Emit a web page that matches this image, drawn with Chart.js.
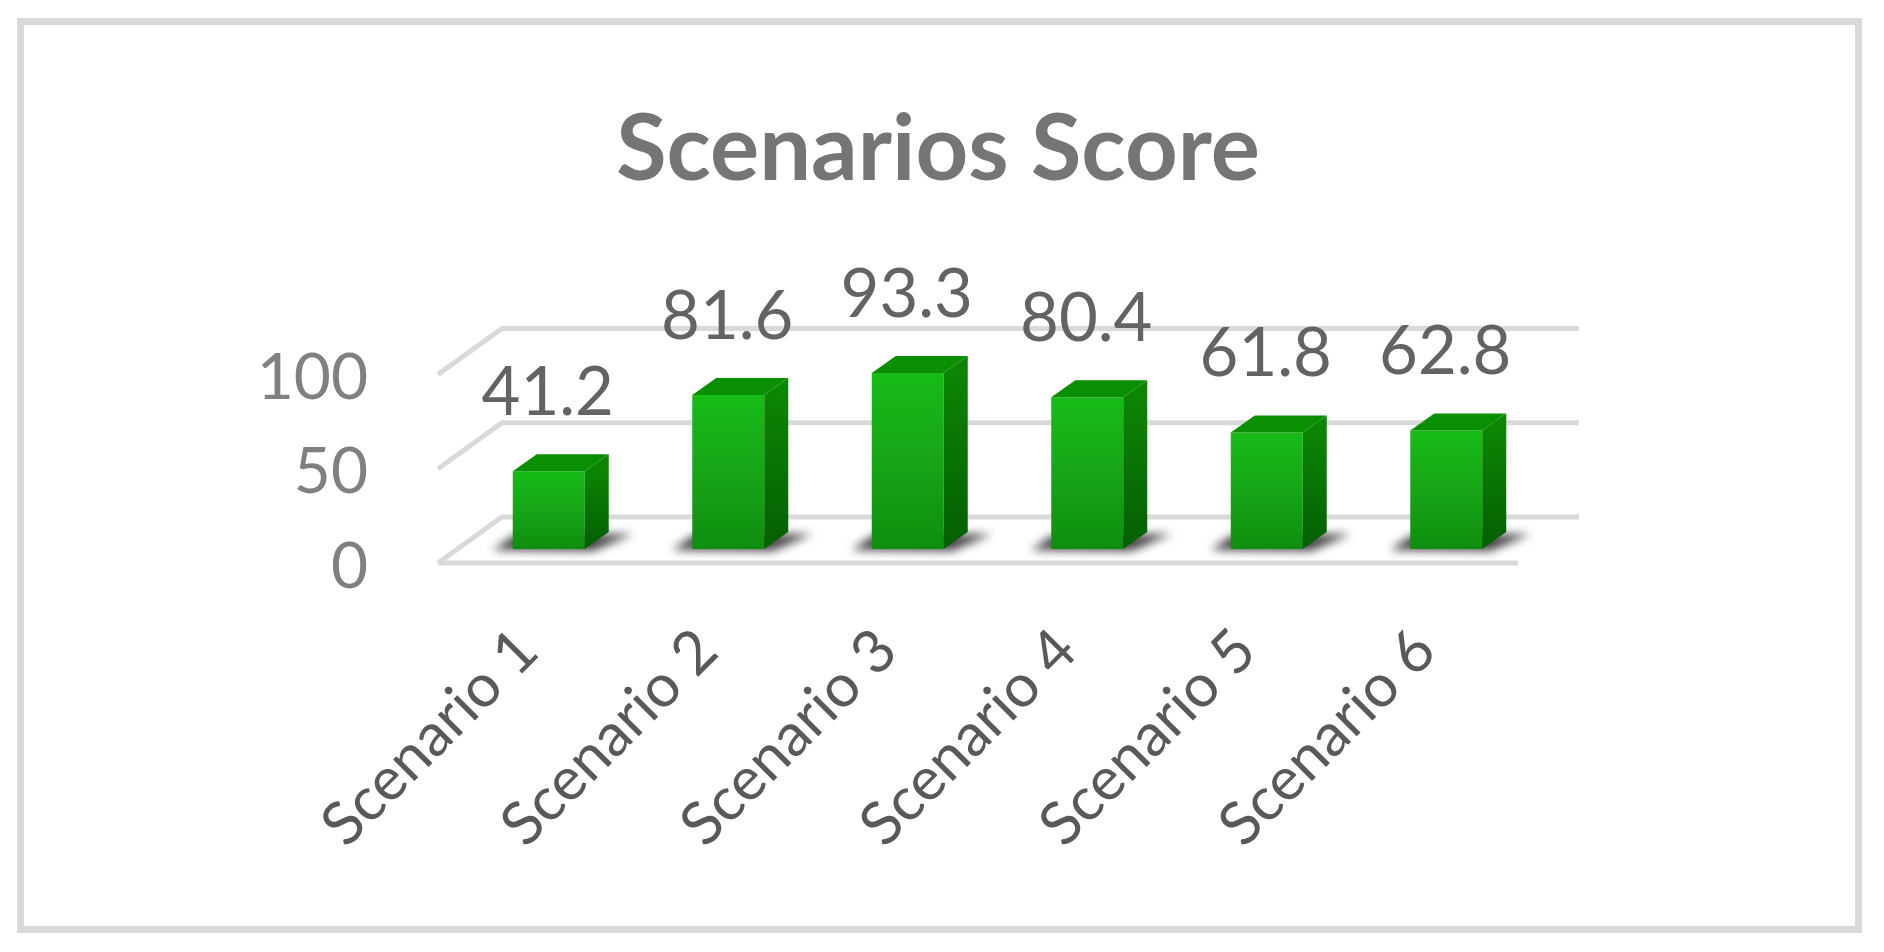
<!DOCTYPE html>
<html>
<head>
<meta charset="utf-8">
<title>Scenarios Score</title>
<script src="https://cdn.jsdelivr.net/npm/chart.js@4"></script>
<style>
  html, body { margin: 0; padding: 0; background: #fff; }
  #wrap { position: relative; width: 1884px; height: 952px; overflow: hidden; }
  #frame { position: absolute; left: 17px; top: 18px; width: 1831px; height: 901px; border: 7px solid #d9d9d9; }
  canvas { position: absolute; left: 0; top: 0; }
</style>
</head>
<body>
<div id="wrap">
  <div id="frame"></div>
  <canvas id="scoreChart" width="1884" height="952"></canvas>
</div>
<script>
const categories = ['Scenario 1', 'Scenario 2', 'Scenario 3', 'Scenario 4', 'Scenario 5', 'Scenario 6'];
const scores = [41.2, 81.6, 93.3, 80.4, 61.8, 62.8];
const yTicks = [0, 50, 100];

// fake 3d look, offsets in px from the front of the bar
const barDepth = { x: 24, y: -17 };

const floorPlugin = {
  id: 'floor',
  beforeDatasetsDraw(chart) {
    const ctx = chart.ctx;
    const y = chart.scales.y;
    const area = chart.chartArea;
    const x0 = area.left - 21, x1 = x0 + 64;
    const backEnd = area.right + 43;
    ctx.save();
    ctx.strokeStyle = '#d9d9d9';
    ctx.lineWidth = 5;
    yTicks.forEach(function (t) {
      const py = y.getPixelForValue(t);
      ctx.beginPath();
      ctx.moveTo(x0, py + 14);
      ctx.lineTo(x1, py - 32);
      ctx.lineTo(backEnd, py - 32);
      ctx.stroke();
    });
    // front edge of the floor
    const p0 = y.getPixelForValue(0);
    ctx.beginPath();
    ctx.moveTo(x0, p0 + 14);
    ctx.lineTo(area.right - 18, p0 + 14);
    ctx.stroke();

    // shadows under the bars
    chart.getDatasetMeta(0).data.forEach(function (bar) {
      const left = bar.x - bar.width / 2, right = bar.x + bar.width / 2;
      ctx.save();
      ctx.filter = 'blur(5px)';
      ctx.fillStyle = 'rgba(50,45,50,0.9)';
      ctx.beginPath();
      ctx.moveTo(left - 20, bar.base + 1);
      ctx.lineTo(left + 2, bar.base - 14);
      ctx.lineTo(right + 48, bar.base - 15);
      ctx.lineTo(right + 8, bar.base + 2);
      ctx.closePath();
      ctx.fill();
      ctx.restore();
    });
    ctx.restore();
  },
  afterDatasetsDraw(chart) {
    const ctx = chart.ctx;
    ctx.save();
    chart.getDatasetMeta(0).data.forEach(function (bar, i) {
      const left = bar.x - bar.width / 2, right = bar.x + bar.width / 2;
      // side face
      const side = ctx.createLinearGradient(0, bar.y, 0, bar.base);
      side.addColorStop(0, '#0c8404');
      side.addColorStop(1, '#045f02');
      ctx.fillStyle = side;
      ctx.beginPath();
      ctx.moveTo(right, bar.y);
      ctx.lineTo(right + barDepth.x, bar.y + barDepth.y);
      ctx.lineTo(right + barDepth.x, bar.base + barDepth.y);
      ctx.lineTo(right, bar.base);
      ctx.closePath();
      ctx.fill();
      // top face
      ctx.fillStyle = '#0b8f02';
      ctx.beginPath();
      ctx.moveTo(left, bar.y);
      ctx.lineTo(left + barDepth.x, bar.y + barDepth.y);
      ctx.lineTo(right + barDepth.x, bar.y + barDepth.y);
      ctx.lineTo(right, bar.y);
      ctx.closePath();
      ctx.fill();
      // value above the bar
      ctx.fillStyle = '#636363';
      ctx.font = '67px Lato';
      ctx.textAlign = 'center';
      ctx.textBaseline = 'middle';
      ctx.fillText(scores[i].toFixed(1), bar.x - 1, bar.y - 78);
    });
    ctx.restore();
  }
};

document.addEventListener('DOMContentLoaded', function () {
  const ctx = document.getElementById('scoreChart').getContext('2d');
  new Chart(ctx, {
    type: 'bar',
    data: {
      labels: categories,
      datasets: [{
        label: 'Score',
        data: scores,
        barPercentage: 1,
        categoryPercentage: 0.401,
        backgroundColor: function (c) {
          const area = c.chart.chartArea;
          const bar = c.element;
          if (!area || !bar) return '#17a817';
          const top = c.chart.scales.y.getPixelForValue(scores[c.dataIndex]);
          const g = c.chart.ctx.createLinearGradient(0, top, 0, c.chart.scales.y.getPixelForValue(0));
          g.addColorStop(0, '#17bb17');
          g.addColorStop(0.5, '#17a517');
          g.addColorStop(1, '#0e8e0e');
          return g;
        }
      }]
    },
    plugins: [floorPlugin],
    options: {
      responsive: false,
      animation: false,
      layout: { padding: { right: 8 } },
      plugins: {
        legend: { display: false },
        tooltip: { enabled: false },
        title: {
          display: true,
          text: 'Scenarios Score',
          color: '#757575',
          font: { family: 'Lato', size: 92, weight: 'bold', lineHeight: 1.2 },
          padding: { top: 95, bottom: 155 }
        }
      },
      scales: {
        x: {
          grid: { display: false },
          border: { display: false },
          afterFit(s) { s.height = 403; },
          ticks: {
            autoSkip: false,
            minRotation: 45,
            maxRotation: 45,
            padding: 58,
            labelOffset: -21,
            color: '#595959',
            font: { family: 'Lato', size: 60 }
          }
        },
        y: {
          min: 0,
          max: 100,
          grid: { display: false, drawTicks: false },
          border: { display: false },
          afterFit(s) { s.width = 459; },
          afterBuildTicks(s) { s.ticks = yTicks.map(function (v) { return { value: v }; }); },
          ticks: {
            padding: 91,
            labelOffset: 18,
            color: '#808080',
            font: { family: 'Lato', size: 64 }
          }
        },
        // only there to keep the plot clear of the right side
        rightPad: {
          type: 'linear',
          position: 'right',
          display: true,
          grid: { display: false, drawTicks: false },
          border: { display: false },
          ticks: { display: false },
          afterFit(s) { s.width = 340; }
        }
      }
    }
  });
});
</script>
</body>
</html>
